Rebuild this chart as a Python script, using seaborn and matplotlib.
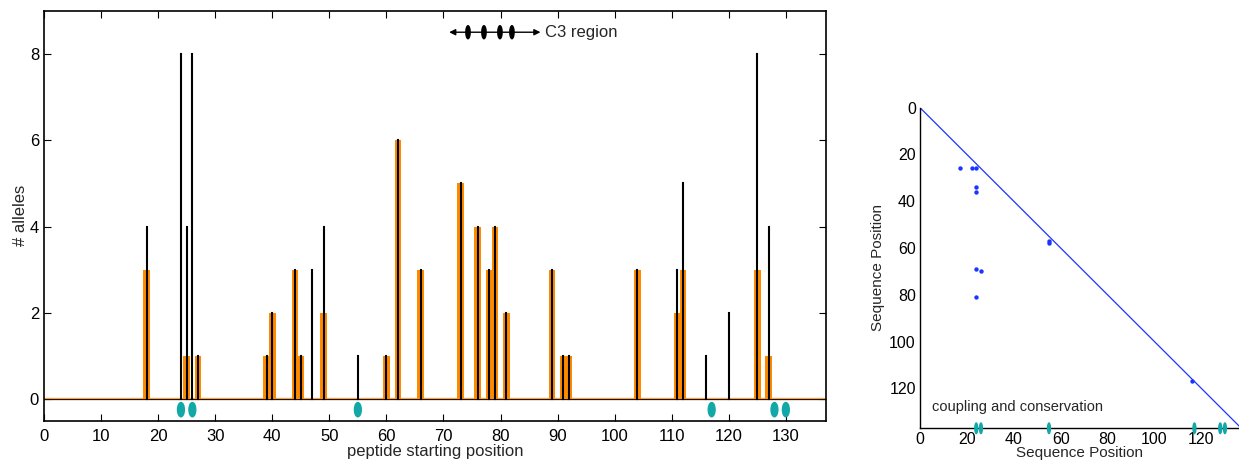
import numpy as np
import pandas as pd
import matplotlib
matplotlib.use("Agg")
import matplotlib.pyplot as plt
from matplotlib.patches import Ellipse
import seaborn as sns

# Predicted epitope counts per peptide starting position
bar_pos = [18, 25, 27, 39, 40, 44, 45, 49, 60, 62, 66, 73, 76, 78, 79, 81,
           89, 91, 92, 104, 111, 112, 125, 127]
bar_alleles = [3, 1, 1, 1, 2, 3, 1, 2, 1, 6, 3, 5, 4, 3, 4, 2,
               3, 1, 1, 3, 2, 3, 3, 1]

# Second allele set, drawn as stems
stem_pos = [18, 24, 25, 26, 27, 39, 40, 44, 45, 47, 49, 55, 60, 62, 66, 73,
            76, 78, 79, 81, 89, 91, 92, 104, 111, 112, 116, 120, 125, 127]
stem_alleles = [4, 8, 4, 8, 1, 1, 2, 3, 1, 3, 4, 1, 1, 6, 3, 5,
                4, 3, 4, 2, 3, 1, 1, 3, 3, 5, 1, 2, 8, 4]

# Coupled / conserved residues
key_sites = [24, 26, 55, 117, 128, 130]

# C3 region disulfide markers
c3_start, c3_end = 71, 87
c3_marks = [74.3, 77.1, 79.9, 82.0]

# Coupling pairs (sequence position i, sequence position j)
pair_i = [17, 22, 24, 24, 24, 55, 55, 24, 26, 24, 116]
pair_j = [26, 26, 26, 34, 36, 57, 58, 69, 70, 81, 117]

x_ticks = list(range(0, 131, 10))
y_ticks = [0, 2, 4, 6, 8]
seq_ticks = list(range(0, 121, 20))

sns.set_style("ticks")
plt.rcParams["font.family"] = ["Liberation Sans", "DejaVu Sans"]

ORANGE = "#ff8a00"
TEAL = "#12a8a8"
BLUE = "#1a35ff"
BAR_W = 1.15

fig = plt.figure(figsize=(12.39, 4.62), dpi=100)

# ---------------- left panel ----------------
ax = fig.add_axes([0.0355, 0.089, 0.631, 0.888])
bars = pd.DataFrame({"pos": bar_pos, "alleles": bar_alleles})
ax.axhline(0, color="black", lw=0.9, zorder=1)
ax.plot([0, 137], [0.02, 0.02], color=ORANGE, lw=1.0, alpha=0.7, zorder=1)
n_before = len(ax.patches)
sns.barplot(data=bars, x="pos", y="alleles", native_scale=True,
            color=ORANGE, saturation=1, errorbar=None, ax=ax, zorder=2)
# one residue wide bars centred on each starting position
for patch in ax.patches[n_before:]:
    cx = patch.get_x() + patch.get_width() / 2
    patch.set_x(cx - BAR_W / 2)
    patch.set_width(BAR_W)
    patch.set_linewidth(0)
ax.vlines(stem_pos, 0, stem_alleles, color="black", lw=1.5, zorder=3,
          capstyle="projecting")

for s in key_sites:
    ax.add_patch(Ellipse((s, -0.24), 1.2, 0.33, color=TEAL, zorder=4))

ax.annotate("", xy=(c3_start, 8.5), xytext=(c3_end, 8.5),
            arrowprops=dict(arrowstyle="<|-|>", color="black", lw=1.0,
                            mutation_scale=9, shrinkA=0, shrinkB=0))
for m in c3_marks:
    ax.add_patch(Ellipse((m, 8.5), 0.75, 0.3, color="black", zorder=5))
ax.text(c3_end + 0.8, 8.5, "C3 region", fontsize=12, va="center", ha="left")

ax.set_xlim(0, 137)
ax.set_ylim(-0.5, 9)
ax.set_xticks(x_ticks)
ax.set_yticks(y_ticks)
ax.tick_params(direction="in", top=True, right=True, length=5, width=0.8,
               labelsize=12, colors="black")
ax.tick_params(axis="x", pad=6)
ax.set_xlabel("peptide starting position", fontsize=12, labelpad=0)
ax.set_ylabel("# alleles", fontsize=12, labelpad=1)
for sp in ax.spines.values():
    sp.set_linewidth(1.2)
    sp.set_color("black")

# ---------------- right panel ----------------
ax2 = fig.add_axes([0.7425, 0.073, 0.2575, 0.694])
ax2.plot([0, 137], [0, 137], color=BLUE, lw=0.9)
pairs = pd.DataFrame({"i": pair_i, "j": pair_j})
sns.scatterplot(data=pairs, x="i", y="j", color=BLUE, s=10, linewidth=0,
                ax=ax2, zorder=3)
for s in key_sites:
    ax2.add_patch(Ellipse((s, 137), 1.2, 4.5, color=TEAL, clip_on=False,
                          zorder=4))
ax2.text(5, 128, "coupling and conservation", fontsize=10.5, va="center")
ax2.set_xlim(0, 136)
ax2.set_ylim(137, 0)
ax2.set_xticks(seq_ticks)
ax2.set_yticks(seq_ticks)
ax2.tick_params(length=0, labelsize=11.5, pad=3, colors="black")
ax2.set_xlabel("Sequence Position", fontsize=11, labelpad=-1)
ax2.set_ylabel("Sequence Position", fontsize=11, labelpad=3)
sns.despine(ax=ax2)
for sp in ("left", "bottom"):
    ax2.spines[sp].set_linewidth(1.0)
    ax2.spines[sp].set_color("black")

fig.savefig("out.png", dpi=100)
